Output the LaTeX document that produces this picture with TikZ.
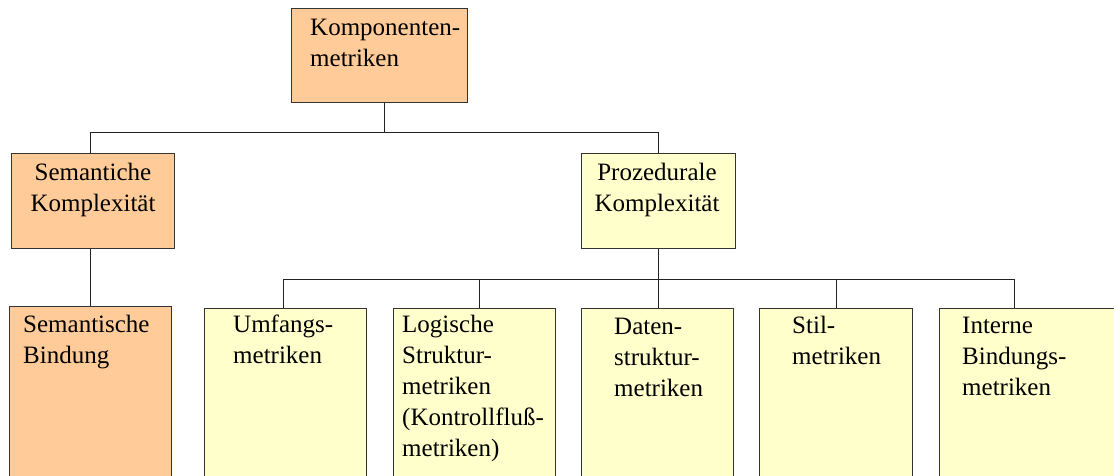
\documentclass[tikz,border=0pt]{standalone}
\usepackage{fontspec}
\setmainfont{Liberation Serif}
\definecolor{warmfill}{HTML}{FFCC99}
\definecolor{palefill}{HTML}{FFFFCC}
\definecolor{boxline}{HTML}{333333}
\definecolor{linkcol}{HTML}{222222}
\begin{document}
\begin{tikzpicture}[x=1pt,y=-1pt,
  box/.style={draw=boxline, line width=1pt, rectangle, inner sep=0pt, anchor=north west},
  warm/.style={box, fill=warmfill},
  pale/.style={box, fill=palefill},
  % multi-line labels: positioned by the baseline of their last line
  lbl/.style={anchor=base west, align=left, inner sep=0pt, font=\fontsize{25}{31}\selectfont},
  clbl/.style={lbl, anchor=base, align=center},
  link/.style={draw=linkcol, line width=0.9pt}]
\useasboundingbox (0,0) rectangle (1114,475);
\clip (0,0) rectangle (1114,475);

% boxes
\node[warm, minimum width=176pt, minimum height=94pt] (top) at (291,8) {};
\node[warm, minimum width=163pt, minimum height=95pt] (sem) at (11,153) {};
\node[pale, minimum width=154pt, minimum height=95pt] (proz) at (581,153) {};
\node[warm, minimum width=162pt, minimum height=200pt] (bind) at (9,306) {};
\node[pale, minimum width=162pt, minimum height=200pt] (umf) at (204,308) {};
\node[pale, minimum width=162pt, minimum height=200pt] (logi) at (393,308) {};
\node[pale, minimum width=152pt, minimum height=200pt] (dat) at (581,308) {};
\node[pale, minimum width=153pt, minimum height=200pt] (stil) at (759,308) {};
\node[pale, minimum width=260pt, minimum height=200pt] (intr) at (939,308) {};

% texts
\node[lbl] (ttop) at (310,66) {Komponenten-\\metriken};
\node[clbl] (tsem) at (93,211) {Semantiche\\Komplexität};
\node[clbl] (tproz) at (657,211) {Prozedurale\\Komplexität};
\node[lbl] (tbind) at (23,363) {Semantische\\Bindung};
\node[lbl] (tumf) at (233,363) {Umfangs-\\metriken};
\node[lbl] (tlogi) at (402,456) {Logische\\Struktur-\\metriken\\(Kontrollfluß-\\metriken)};
\node[lbl] (tdat) at (614,396) {Daten-\\struktur-\\metriken};
\node[lbl] (tstil) at (792,364) {Stil-\\metriken};
\node[lbl] (tintr) at (962,395) {Interne\\Bindungs-\\metriken};

% bus lines
\coordinate (bus1) at (0,132);
\coordinate (bus2) at (0,279);
\coordinate (tapI) at (1014,279);

\draw[link] ([xshift=5pt]top.south) -- ([xshift=5pt]top.south |- bus1);
\draw[link] ([xshift=-3pt]sem.north) |- (proz.north |- bus1) -- (proz.north);
\draw[link] ([xshift=-3pt]sem.south) -- ([xshift=-3pt]sem.south |- bind.north);
\draw[link] (proz.south) -- (proz.south |- dat.north);
\draw[link] ([xshift=-2pt]umf.north) |- (tapI) -- (tapI |- intr.north);
\draw[link] ([xshift=5pt]logi.north) -- ([xshift=5pt]logi.north |- bus2);
\draw[link] (stil.north) -- (stil.north |- bus2);
\end{tikzpicture}
\end{document}
